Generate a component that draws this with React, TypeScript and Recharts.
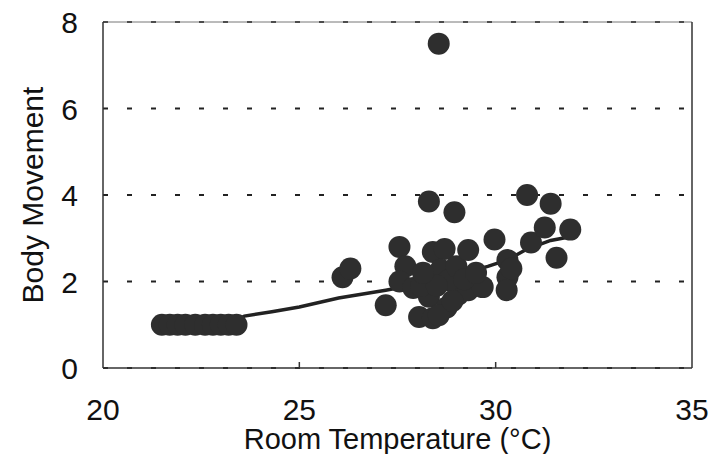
import { CartesianGrid, ReferenceLine, Scatter, ScatterChart, XAxis, YAxis } from "recharts";

// room temperature (°C) / body movement readings
const tempValues = [
  21.5, 21.7, 21.9, 22.1, 22.35, 22.6, 22.8, 23.0, 23.2, 23.4,
  26.1, 26.3, 27.2, 27.55, 27.7, 27.55, 27.9, 28.05, 28.4, 28.3, 28.75,
  29.05, 28.4, 28.7, 28.6, 28.8, 29.0, 28.3, 28.95, 28.55, 29.3,
  29.3, 29.67, 29.97, 30.3, 30.3, 30.28, 30.8, 31.4, 30.9, 31.25,
  31.55, 31.9, 28.1, 28.5, 28.55, 28.9, 29.2, 29.5, 28.15, 30.4,
];
const movementValues = [
  1.0, 1.0, 1.0, 1.0, 1.0, 1.0, 1.0, 1.0, 1.0, 1.0,
  2.1, 2.3, 1.45, 2.8, 2.35, 2.0, 1.85, 1.18, 1.15, 1.65, 1.4,
  1.7, 2.68, 2.75, 2.27, 2.03, 2.35, 3.85, 3.6, 7.5, 2.73,
  1.8, 1.87, 2.97, 2.5, 2.1, 1.8, 4.0, 3.8, 2.9, 3.25,
  2.55, 3.2, 1.9, 1.9, 1.22, 1.55, 2.05, 2.2, 2.2, 2.3,
];

// fitted trend
const trendTemps = [21.5, 23.3, 23.6, 24.3, 25.0, 26.0, 27.2, 27.8, 28.5, 29.2, 29.8, 30.3, 30.8, 31.4, 32.0];
const trendMovement = [1.0, 1.05, 1.2, 1.3, 1.41, 1.62, 1.8, 1.9, 2.05, 2.2, 2.35, 2.5, 2.75, 2.95, 3.05];

const xTicks = [20, 25, 30, 35];
const yTicks = [0, 2, 4, 6, 8];

const points = tempValues.map((t, i) => ({ t, b: movementValues[i] }));
const trend = trendTemps.map((t, i) => ({ t, b: trendMovement[i] }));

const FONT = "'Liberation Sans', Arial, sans-serif";

const Dot = (props: any) => <circle cx={props.cx} cy={props.cy} r={11} fill="#2e2e2e" />;

const XTick = (props: any) => {
  const { x, y, payload } = props;
  const inner = payload.value !== 20 && payload.value !== 35;
  return (
    <g>
      {inner && <line x1={x} y1={y} x2={x} y2={y - 6} stroke="#333" strokeWidth={1.5} />}
      <text x={x} y={y + 52} textAnchor="middle" fontSize={30} fontFamily={FONT} fill="#111">
        {payload.value}
      </text>
    </g>
  );
};

const YTick = (props: any) => {
  const { x, y, payload } = props;
  return (
    <text x={x - 25} y={y + 11} textAnchor="end" fontSize={30} fontFamily={FONT} fill="#111">
      {payload.value}
    </text>
  );
};

export default function App() {
  return (
    <div style={{ position: "absolute", left: 0, top: 0, background: "#fff" }}>
      <ScatterChart width={712} height={454} margin={{ top: 22, right: 20, bottom: 0, left: 0 }}>
        <CartesianGrid vertical={false} stroke="#222" strokeWidth={2} strokeDasharray="5 19" />
        <XAxis
          type="number"
          dataKey="t"
          domain={[20, 35]}
          ticks={xTicks}
          height={86}
          tickSize={0}
          tickMargin={0}
          tick={<XTick />}
          axisLine={{ stroke: "#333", strokeWidth: 1.5 }}
          label={{ value: "Room Temperature (°C)", position: "insideBottom", offset: 5, fontSize: 29, fontFamily: FONT, fill: "#111" }}
        />
        <YAxis
          type="number"
          dataKey="b"
          domain={[0, 8]}
          ticks={yTicks}
          width={103}
          tickSize={0}
          tickMargin={0}
          tick={<YTick />}
          axisLine={{ stroke: "#333", strokeWidth: 1.5 }}
          label={{ value: "Body Movement", angle: -90, position: "insideLeft", offset: 32, fontSize: 30, fontFamily: FONT, fill: "#111", style: { textAnchor: "middle" } }}
        />
        <ReferenceLine y={8} stroke="#777" strokeWidth={1} />
        <ReferenceLine x={35} stroke="#333" strokeWidth={1.5} />
        <Scatter data={trend} line={{ stroke: "#222", strokeWidth: 3.5 }} shape={() => null} isAnimationActive={false} />
        <Scatter data={points} shape={<Dot />} isAnimationActive={false} />
      </ScatterChart>
    </div>
  );
}
